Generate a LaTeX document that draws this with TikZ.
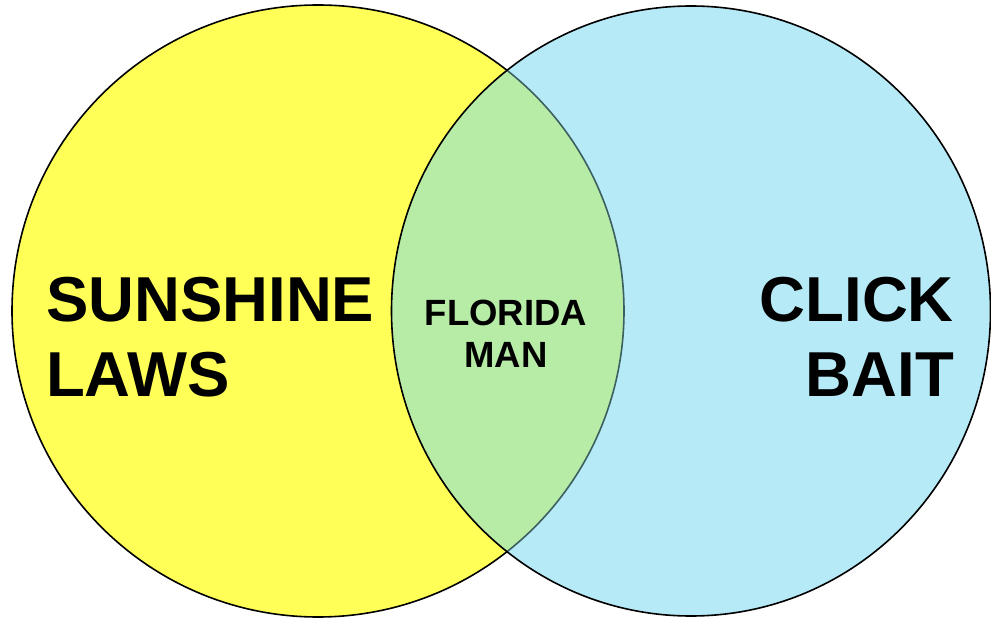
\documentclass[tikz,border=0pt]{standalone}
\usepackage{fontspec}
\setmainfont{Liberation Sans}
\definecolor{venyellow}{RGB}{255,255,87}
\definecolor{venblue}{RGB}{182,234,247}
\definecolor{vengreen}{RGB}{183,236,167}
\definecolor{venedge}{RGB}{60,95,95}
\tikzset{
  bigtext/.style={inner sep=0pt, font=\bfseries\fontsize{63.5}{74}\selectfont},
  smalltext/.style={inner sep=0pt, font=\bfseries\fontsize{36.5}{43}\selectfont},
  outline/.style={draw=black, line width=1.6pt}
}
\begin{document}
\begin{tikzpicture}[x=1pt,y=-1pt]
\useasboundingbox (0,0) rectangle (991,620);
\coordinate (lc) at (318,311);
\coordinate (rc) at (691,311);
% left circle
\fill[venyellow] (lc) circle [radius=306];
\draw[outline] (lc) circle [radius=306];
% right circle
\fill[venblue] (rc) ellipse [x radius=299.5, y radius=305];
% overlap
\begin{scope}
  \clip (rc) ellipse [x radius=299.5, y radius=305];
  \fill[vengreen] (lc) circle [radius=306];
  \draw[venedge, line width=1.6pt] (lc) circle [radius=306];
\end{scope}
\draw[outline] (rc) ellipse [x radius=299.5, y radius=305];
% texts
\node[bigtext, anchor=base west] (sun1) at (46,322) {SUNSHINE};
\node[bigtext, anchor=base west] (sun2) at (46,396) {LAWS};
\node[bigtext, anchor=base east] (clk1) at (954,322) {CLICK};
\node[bigtext, anchor=base east] (clk2) at (954,396) {BAIT};
\node[smalltext, anchor=base] (fl1) at (506,326) {FLORIDA};
\node[smalltext, anchor=base] (fl2) at (506,368) {MAN};
\end{tikzpicture}
\end{document}
